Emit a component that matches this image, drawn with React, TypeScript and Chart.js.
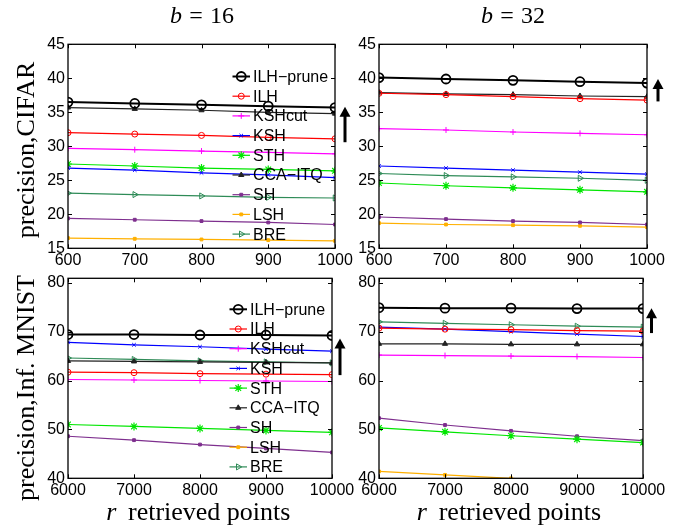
import React, { useEffect, useRef } from 'react';
import { Chart, registerables } from 'chart.js';
import { drawPoint } from 'chart.js/helpers';

Chart.register(...registerables);

// ---------------- data ----------------
const seriesNames = ['ILH−prune', 'ILH', 'KSHcut', 'KSH', 'STH', 'CCA−ITQ', 'SH', 'LSH', 'BRE'];
const xCifar = [600, 700, 800, 900, 1000];
const xMnist = [6000, 7000, 8000, 9000, 10000];
const yTicksCifar = [15, 20, 25, 30, 35, 40, 45];
const yTicksMnist = [40, 50, 60, 70, 80];

// CIFAR, b = 16
const c16IlhPrune = [36.5, 36.3, 36.1, 35.9, 35.7];
const c16Ilh = [32.0, 31.8, 31.6, 31.3, 31.1];
const c16KshCut = [29.7, 29.5, 29.3, 29.1, 28.9];
const c16Ksh = [26.8, 26.5, 26.1, 25.8, 25.4];
const c16Sth = [27.4, 27.1, 26.8, 26.6, 26.4];
const c16CcaItq = [35.7, 35.5, 35.3, 35.0, 34.8];
const c16Sh = [19.4, 19.2, 19.0, 18.8, 18.5];
const c16Lsh = [16.5, 16.4, 16.3, 16.2, 16.1];
const c16Bre = [23.1, 22.9, 22.7, 22.5, 22.4];

// CIFAR, b = 32
const c32IlhPrune = [40.1, 39.9, 39.7, 39.5, 39.3];
const c32Ilh = [37.8, 37.6, 37.3, 37.0, 36.8];
const c32KshCut = [32.6, 32.4, 32.1, 31.9, 31.7];
const c32Ksh = [27.1, 26.8, 26.5, 26.2, 25.9];
const c32Sth = [24.6, 24.2, 23.9, 23.6, 23.3];
const c32CcaItq = [37.9, 37.7, 37.6, 37.4, 37.3];
const c32Sh = [19.6, 19.3, 19.0, 18.8, 18.5];
const c32Lsh = [18.7, 18.5, 18.4, 18.3, 18.1];
const c32Bre = [26.0, 25.7, 25.5, 25.3, 25.0];

// Inf. MNIST, b = 16
const m16IlhPrune = [69.4, 69.4, 69.3, 69.3, 69.2];
const m16Ilh = [61.7, 61.6, 61.4, 61.3, 61.2];
const m16KshCut = [60.2, 60.1, 60.0, 59.9, 59.8];
const m16Ksh = [67.8, 67.3, 66.9, 66.4, 66.0];
const m16Sth = [51.0, 50.6, 50.2, 49.8, 49.4];
const m16CcaItq = [64.0, 63.9, 63.8, 63.7, 63.6];
const m16Sh = [48.6, 47.8, 46.9, 46.1, 45.3];
const m16Lsh = [36.5, 36.0, 35.6, 35.2, 34.8];
const m16Bre = [64.6, 64.3, 64.0, 63.8, 63.6];

// Inf. MNIST, b = 32
const m32IlhPrune = [74.9, 74.8, 74.8, 74.7, 74.7];
const m32Ilh = [70.7, 70.5, 70.4, 70.2, 70.1];
const m32KshCut = [65.2, 65.1, 65.0, 64.9, 64.7];
const m32Ksh = [70.9, 70.5, 70.0, 69.5, 69.0];
const m32Sth = [50.3, 49.5, 48.7, 48.0, 47.3];
const m32CcaItq = [67.5, 67.5, 67.4, 67.4, 67.4];
const m32Sh = [52.3, 50.9, 49.7, 48.6, 47.7];
const m32Lsh = [41.4, 40.7, 40.0, 39.3, 38.6];
const m32Bre = [72.0, 71.7, 71.4, 71.1, 70.9];

// improvement arrows (from value, to value)
const arrowC16 = [30.6, 35.8];
const arrowC32 = [36.6, 39.9];
const arrowM16 = [61.1, 68.6];
const arrowM32 = [69.7, 74.8];

// ---------------- styles ----------------
const seriesStyles = [
  { color: '#000000', point: 'circle', radius: 4.5, lw: 2, pbw: 1.8, fill: 'rgba(0,0,0,0)', rot: 0 },
  { color: '#ff0000', point: 'circle', radius: 3, lw: 1.2, pbw: 1, fill: 'rgba(0,0,0,0)', rot: 0 },
  { color: '#ff00ff', point: 'cross', radius: 3, lw: 1.2, pbw: 1, fill: 'rgba(0,0,0,0)', rot: 0 },
  { color: '#0000ff', point: 'crossRot', radius: 2.5, lw: 1.2, pbw: 1, fill: 'rgba(0,0,0,0)', rot: 0 },
  { color: '#00e600', point: 'star', radius: 4, lw: 1.2, pbw: 1.2, fill: 'rgba(0,0,0,0)', rot: 0 },
  { color: '#222222', point: 'triangle', radius: 3, lw: 1.2, pbw: 1, fill: '#222222', rot: 0 },
  { color: '#7e2f8e', point: 'rect', radius: 2, lw: 1.2, pbw: 1, fill: '#7e2f8e', rot: 0 },
  { color: '#ffb000', point: 'rect', radius: 2, lw: 1.2, pbw: 1, fill: '#ffb000', rot: 0 },
  { color: '#2e8b57', point: 'triangle', radius: 3.5, lw: 1.2, pbw: 1, fill: 'rgba(0,0,0,0)', rot: 90 },
];

const TICK_FONT = { family: '"Liberation Sans", Arial, Helvetica, sans-serif', size: 16 };

type PanelCfg = {
  left: number; top: number; width: number; height: number;
  area: { l: number; r: number; t: number; b: number };
  xs: number[]; yMin: number; yMax: number; yTicks: number[];
  series: number[][]; legend: boolean; legendTop: number;
  arrow: number[]; arrowDx: number; xPad: number;
};

const panels: PanelCfg[] = [
  {
    left: 0, top: 0, width: 362, height: 270,
    area: { l: 68, r: 335, t: 44.3, b: 248.3 },
    xs: xCifar, yMin: 15, yMax: 45, yTicks: yTicksCifar,
    series: [c16IlhPrune, c16Ilh, c16KshCut, c16Ksh, c16Sth, c16CcaItq, c16Sh, c16Lsh, c16Bre],
    legend: true, legendTop: 32.2, arrow: arrowC16, arrowDx: 10, xPad: 3,
  },
  {
    left: 340, top: 0, width: 338, height: 270,
    area: { l: 379, r: 647, t: 44.3, b: 248.3 },
    xs: xCifar, yMin: 15, yMax: 45, yTicks: yTicksCifar,
    series: [c32IlhPrune, c32Ilh, c32KshCut, c32Ksh, c32Sth, c32CcaItq, c32Sh, c32Lsh, c32Bre],
    legend: false, legendTop: 0, arrow: arrowC32, arrowDx: 11, xPad: 3,
  },
  {
    left: 0, top: 265, width: 362, height: 264,
    area: { l: 68, r: 332, t: 278.3, b: 478.3 },
    xs: xMnist, yMin: 40, yMax: 80.9, yTicks: yTicksMnist,
    series: [m16IlhPrune, m16Ilh, m16KshCut, m16Ksh, m16Sth, m16CcaItq, m16Sh, m16Lsh, m16Bre],
    legend: true, legendTop: 31, arrow: arrowM16, arrowDx: 8, xPad: 3,
  },
  {
    left: 340, top: 265, width: 338, height: 264,
    area: { l: 379, r: 643, t: 278.3, b: 478.3 },
    xs: xMnist, yMin: 40, yMax: 80.9, yTicks: yTicksMnist,
    series: [m32IlhPrune, m32Ilh, m32KshCut, m32Ksh, m32Sth, m32CcaItq, m32Sh, m32Lsh, m32Bre],
    legend: false, legendTop: 0, arrow: arrowM32, arrowDx: 8.5, xPad: 3,
  },
];

// ---------------- plugins ----------------
const framePlugin = {
  id: 'matlabFrame',
  afterDatasetsDraw(chart: any) {
    const { ctx, chartArea: a, scales } = chart;
    ctx.save();
    ctx.strokeStyle = '#000';
    ctx.lineWidth = 1.3;
    ctx.strokeRect(a.left, a.top, a.right - a.left, a.bottom - a.top);
    ctx.lineWidth = 1;
    const tl = 4;
    ctx.beginPath();
    scales.x.ticks.forEach((t: any) => {
      const px = Math.round(scales.x.getPixelForValue(t.value)) + 0.5;
      ctx.moveTo(px, a.bottom); ctx.lineTo(px, a.bottom - tl);
      ctx.moveTo(px, a.top); ctx.lineTo(px, a.top + tl);
    });
    scales.y.ticks.forEach((t: any) => {
      const py = Math.round(scales.y.getPixelForValue(t.value)) + 0.5;
      ctx.moveTo(a.left, py); ctx.lineTo(a.left + tl, py);
      ctx.moveTo(a.right, py); ctx.lineTo(a.right - tl, py);
    });
    ctx.stroke();
    ctx.restore();
  },
  afterDraw(chart: any) {
    const { ctx, chartArea: a, scales } = chart;
    const o = chart.options.plugins.matlabFrame || {};
    // legend
    if (o.legend) {
      ctx.save();
      chart.data.datasets.forEach((ds: any, i: number) => {
        const st = seriesStyles[i];
        const y = a.top + o.legendTop + i * 19.7;
        const x0 = a.right - 102.5;
        const x1 = a.right - 85;
        ctx.strokeStyle = st.color;
        ctx.lineWidth = st.lw;
        ctx.beginPath(); ctx.moveTo(x0, y); ctx.lineTo(x1, y); ctx.stroke();
        ctx.fillStyle = st.fill;
        ctx.lineWidth = st.pbw;
        drawPoint(ctx, { pointStyle: st.point as any, radius: st.radius, rotation: st.rot, borderWidth: st.pbw }, (x0 + x1) / 2, y);
        ctx.fillStyle = '#000';
        ctx.font = '16px "Liberation Sans", Arial, Helvetica, sans-serif';
        ctx.textBaseline = 'middle';
        ctx.textAlign = 'left';
        ctx.fillText(ds.label, a.right - 82, y + 1);
      });
      ctx.restore();
    }
    // arrow
    if (o.arrow) {
      const x = a.right + o.arrowDx;
      const yFrom = scales.y.getPixelForValue(o.arrow[0]);
      const yTo = scales.y.getPixelForValue(o.arrow[1]);
      ctx.save();
      ctx.strokeStyle = '#000';
      ctx.fillStyle = '#000';
      ctx.lineWidth = 3;
      ctx.beginPath(); ctx.moveTo(x, yFrom); ctx.lineTo(x, yTo + 8); ctx.stroke();
      ctx.beginPath();
      ctx.moveTo(x, yTo); ctx.lineTo(x - 5.5, yTo + 10); ctx.lineTo(x + 5.5, yTo + 10); ctx.closePath();
      ctx.fill();
      ctx.restore();
    }
  },
};

function Panel({ cfg }: { cfg: PanelCfg }) {
  const ref = useRef<HTMLCanvasElement>(null);
  useEffect(() => {
    if (!ref.current) return;
    const yAxisW = cfg.area.l - cfg.left;
    const xAxisH = 22;
    const padTop = cfg.area.t - cfg.top;
    const padRight = cfg.left + cfg.width - cfg.area.r;
    const padBottom = cfg.top + cfg.height - cfg.area.b - xAxisH;
    const datasets = cfg.series.map((vals, i) => {
      const st = seriesStyles[i];
      return {
        label: seriesNames[i],
        data: vals.map((v, j) => ({ x: cfg.xs[j], y: v })),
        borderColor: st.color,
        backgroundColor: st.fill,
        borderWidth: st.lw,
        pointStyle: st.point,
        pointRadius: st.radius,
        pointBorderWidth: st.pbw,
        pointRotation: st.rot,
        pointBackgroundColor: st.fill,
        pointBorderColor: st.color,
        tension: 0,
        fill: false,
      };
    });
    const chart = new Chart(ref.current, {
      type: 'line',
      data: { datasets } as any,
      plugins: [framePlugin as any],
      options: {
        responsive: false,
        animation: false,
        devicePixelRatio: 1,
        layout: { padding: { left: 0, right: padRight, top: padTop, bottom: padBottom } },
        plugins: {
          legend: { display: false },
          tooltip: { enabled: false },
          matlabFrame: { legend: cfg.legend, legendTop: cfg.legendTop, arrow: cfg.arrow, arrowDx: cfg.arrowDx },
        } as any,
        scales: {
          x: {
            type: 'linear',
            min: cfg.xs[0],
            max: cfg.xs[cfg.xs.length - 1],
            grid: { display: false, drawTicks: false },
            border: { display: false },
            afterBuildTicks: (scale: any) => { scale.ticks = cfg.xs.map((v) => ({ value: v })); },
            afterFit: (scale: any) => { scale.height = xAxisH; },
            ticks: {
              font: TICK_FONT, color: '#000', padding: cfg.xPad, maxRotation: 0, autoSkip: false,
              callback: (v: any) => String(v),
            },
          },
          y: {
            type: 'linear',
            min: cfg.yMin,
            max: cfg.yMax,
            grid: { display: false, drawTicks: false },
            border: { display: false },
            afterBuildTicks: (scale: any) => { scale.ticks = cfg.yTicks.map((v) => ({ value: v })); },
            afterFit: (scale: any) => { scale.width = yAxisW; },
            ticks: { font: TICK_FONT, color: '#000', padding: 3, callback: (v: any) => String(v) },
          },
        },
      } as any,
    });
    return () => chart.destroy();
  }, []);
  return (
    <canvas
      ref={ref}
      width={cfg.width}
      height={cfg.height}
      style={{ position: 'absolute', left: cfg.left, top: cfg.top, width: cfg.width, height: cfg.height }}
    />
  );
}

const serif = '"Liberation Serif", "Times New Roman", Times, serif';

function Label({ x, y, size, rotate, children }: any) {
  return (
    <div
      style={{
        position: 'absolute',
        left: x,
        top: y,
        transform: `translate(-50%, -50%)${rotate ? ' rotate(-90deg)' : ''}`,
        fontFamily: serif,
        fontSize: size,
        lineHeight: `${size}px`,
        whiteSpace: 'nowrap',
        color: '#000',
      }}
    >
      {children}
    </div>
  );
}

export default function App() {
  return (
    <div style={{ position: 'absolute', left: 0, top: 0, width: 678, height: 529, background: '#fff', overflow: 'hidden' }}>
      {panels.map((p, i) => (
        <Panel key={i} cfg={p} />
      ))}
      <Label x={202} y={14.6} size={24}>
        <i>b</i>
        <span style={{ margin: '0 0.3em' }}>=</span>16
      </Label>
      <Label x={513} y={14.6} size={24}>
        <i>b</i>
        <span style={{ margin: '0 0.3em' }}>=</span>32
      </Label>
      <Label x={26} y={149.5} size={26} rotate>
        precision,CIFAR
      </Label>
      <Label x={26} y={387.5} size={26} rotate>
        precision,Inf. MNIST
      </Label>
      <Label x={198.3} y={511.9} size={26}>
        <i style={{ marginRight: '0.2em' }}>r</i> retrieved points
      </Label>
      <Label x={509} y={511.9} size={26}>
        <i style={{ marginRight: '0.2em' }}>r</i> retrieved points
      </Label>
    </div>
  );
}
